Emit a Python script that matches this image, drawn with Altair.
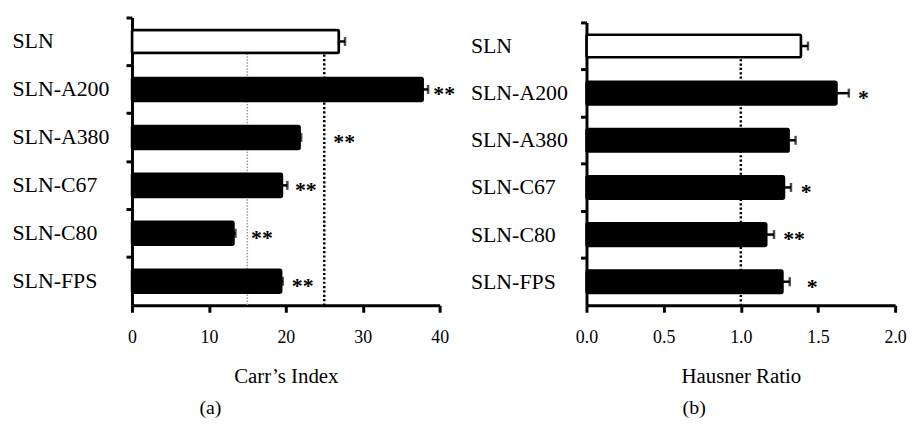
import altair as alt
import pandas as pd

FONT = "Liberation Serif"

categories = ["SLN", "SLN-A200", "SLN-A380", "SLN-C67", "SLN-C80", "SLN-FPS"]
fills = ["white", "black", "black", "black", "black", "black"]

carr_values = [26.9, 37.8, 21.8, 19.5, 13.2, 19.4]
carr_errors = [0.8, 0.7, 0.2, 0.7, 0.25, 0.2]
carr_sig = ["", "**", "**", "**", "**", "**"]
carr_sig_x = [None, 40.6, 27.6, 22.6, 16.9, 22.2]
carr_refs = [15, 25]
carr_ref_colors = ["#999999", "black"]
carr_ticks = [0, 10, 20, 30, 40]

hr_values = [1.39, 1.62, 1.31, 1.28, 1.165, 1.27]
hr_errors = [0.045, 0.08, 0.045, 0.045, 0.05, 0.047]
hr_sig = ["", "*", "", "*", "**", "*"]
hr_sig_x = [None, 1.795, None, 1.424, 1.345, 1.463]
hr_refs = [1.0]
hr_ref_colors = ["black"]
hr_ticks = [0.0, 0.5, 1.0, 1.5, 2.0]


def panel(values, errors, sig, sig_x, refs, ref_colors, ticks, xmax, fmt,
          xtitle, caption, caption_dx, label_pad, width, height, y_range):
    df = pd.DataFrame({
        "cat": categories,
        "val": values,
        "hi": [v + e for v, e in zip(values, errors)],
        "fill": fills,
        "sig": sig,
        "sigx": sig_x,
    })
    ref_df = pd.DataFrame({"ref": refs, "color": ref_colors,
                           "start": ["SLN"] * len(refs)})

    y_scale = alt.Scale(domain=categories, paddingInner=0, paddingOuter=0,
                        range=y_range)
    x_scale = alt.Scale(domain=[0, xmax], nice=False, zero=True)

    x_axis = alt.Axis(values=ticks, format=fmt, title=xtitle, grid=False,
                      domainColor="black", domainWidth=3, tickColor="black",
                      tickWidth=3, tickSize=7, labelFont=FONT, labelFontSize=18,
                      labelColor="black", labelPadding=16, labelFlush=False,
                      titleFont=FONT, titleFontSize=21,
                      titleFontWeight="normal", titleColor="black",
                      titlePadding=20)
    y_axis = alt.Axis(title=None, grid=False, domainColor="black",
                      domainWidth=3, tickColor="black", tickWidth=3,
                      tickSize=6, bandPosition=0, labelFont=FONT,
                      labelFontSize=22, labelColor="black", labelAlign="left",
                      labelPadding=label_pad, labelBaseline="middle")

    base = alt.Chart(df)

    rules = alt.Chart(ref_df).mark_rule().encode(
        x=alt.X("ref:Q", scale=x_scale, axis=x_axis),
        y=alt.Y("start:N", scale=y_scale, axis=y_axis),
        y2=alt.value({"expr": "height"}),
        color=alt.Color("color:N", scale=None),
        strokeWidth=alt.condition(alt.datum.color == "black", alt.value(2.5), alt.value(1.5)),
        strokeDash=alt.condition(alt.datum.color == "black", alt.value([2.2, 2.2]), alt.value([1.5, 1.5])),
    )

    bars = base.mark_bar(height={"band": 0.48}, stroke="black",
                         strokeWidth=2.5, cornerRadius=1.5).encode(
        x=alt.X("val:Q", scale=x_scale, axis=x_axis),
        y=alt.Y("cat:N", scale=y_scale, axis=y_axis, sort=categories),
        fill=alt.Fill("fill:N", scale=None),
    )

    err = base.mark_rule(color="black", strokeWidth=2.5).encode(
        x="val:Q", x2="hi:Q",
        y=alt.Y("cat:N", sort=categories),
    )

    caps = base.mark_tick(color="black", thickness=2.5, size=9,
                          orient="vertical").encode(
        x="hi:Q",
        y=alt.Y("cat:N", sort=categories),
    )

    stars = base.mark_text(font=FONT, fontSize=22, fontWeight="bold",
                           color="black", baseline="middle", align="center",
                           dy=5).encode(
        x="sigx:Q",
        y=alt.Y("cat:N", sort=categories),
        text="sig:N",
    )

    return alt.layer(rules, bars, err, caps, stars).properties(
        width=width, height=height,
        title=alt.TitleParams(caption, orient="bottom", anchor="middle",
                              dx=caption_dx, font=FONT, fontSize=20,
                              fontWeight="normal", color="black", offset=12),
    )


left = panel(carr_values, carr_errors, carr_sig, carr_sig_x, carr_refs,
             carr_ref_colors, carr_ticks, 40, "d", "Carr’s Index", "(a)",
             -76, 115, 310, 290, [0, 290])
right = panel(hr_values, hr_errors, hr_sig, hr_sig_x, hr_refs,
              hr_ref_colors, hr_ticks, 2.0, ".1f", "Hausner Ratio", "(b)",
              -47, 111, 311, 290, [5, 290])

chart = alt.hconcat(left, right, spacing=15).properties(
    padding={"left": 12, "top": 14, "right": 5, "bottom": 5},
    background="white",
).configure_view(stroke=None)

chart.save("out.html", embed_options={"renderer": "svg", "actions": False})
